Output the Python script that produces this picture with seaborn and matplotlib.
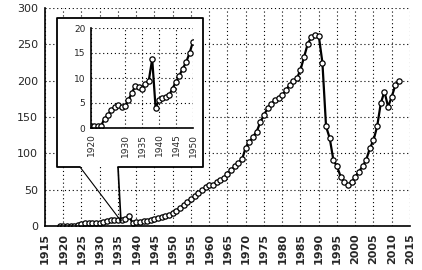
import pandas as pd
import matplotlib.pyplot as plt
import seaborn as sns
from matplotlib.patches import Rectangle, ConnectionPatch
from matplotlib.lines import Line2D

sns.set_style("white")
plt.rcParams['font.family'] = ['DejaVu Sans']

# data
years = list(range(1919, 2013))
values = [0.3, 0.4, 0.4, 0.5, 0.5, 1.9, 2.6, 3.7, 4.2, 4.6,
          4.3, 4.5, 5.6, 7.0, 8.4, 8.2, 7.9, 8.8, 9.5, 13.8,
          4.0, 5.6, 6.0, 6.2, 6.6, 7.9, 9.3, 10.5, 11.9, 13.2,
          15.0, 17.3, 21, 25, 29, 33, 37, 41, 45, 49,
          53, 56, 57, 60, 63, 66, 71, 77, 82, 87,
          92, 108, 115, 123, 130, 143, 153, 162, 168, 173,
          176, 180, 187, 194, 199, 203, 215, 233, 251, 260,
          263, 262, 225, 137, 121, 91, 82, 68, 61, 56,
          60, 68, 75, 82, 91, 107, 118, 137, 169, 185,
          164, 178, 194, 200]
df = pd.DataFrame({'year': years, 'value': values})
inset_df = df[df['year'] <= 1950]

main_xticks = list(range(1915, 2016, 5))
main_yticks = [0, 50, 100, 150, 200, 250, 300]
inset_xticks = [1920, 1930, 1935, 1940, 1945, 1950]
inset_yticks = [0, 5, 10, 15, 20]

W, H = 422, 270
fig = plt.figure(figsize=(W / 100, H / 100), dpi=100)

def fx(px):
    return px / W

def fy(py):
    return 1 - py / H

ax = fig.add_axes([fx(45), fy(226), fx(410) - fx(45), fy(8) - fy(226)])
sns.lineplot(data=df, x='year', y='value', ax=ax, color='black', lw=1.6,
             marker='o', markersize=3.8, markerfacecolor='white',
             markeredgecolor='black', markeredgewidth=0.9)
ax.set_xlim(1915, 2015)
ax.set_ylim(0, 300)
ax.set_xticks(main_xticks)
ax.set_yticks(main_yticks)
ax.set_xticklabels([str(t) for t in main_xticks], rotation=90, fontsize=8, fontweight='bold')
ax.set_yticklabels([str(t) for t in main_yticks], fontsize=8)
ax.set_xlabel('')
ax.set_ylabel('')
ax.grid(True, color='black', linestyle=(0, (1, 2.5)), linewidth=0.8)
ax.tick_params(direction='out', length=3, width=1, color='black', pad=2)
for side in ['top', 'right']:
    ax.spines[side].set_visible(False)
for side in ['left', 'bottom']:
    ax.spines[side].set_color('black')
    ax.spines[side].set_linewidth(1.2)

# inset box with callout
fig.patches.append(Rectangle((fx(57), fy(167)), fx(203) - fx(57), fy(18) - fy(167),
                             transform=fig.transFigure, facecolor='white',
                             edgecolor='none', zorder=5))
fig.lines.append(Line2D([fx(80), fx(57), fx(57), fx(203), fx(203), fx(118)],
                        [fy(167), fy(167), fy(18), fy(18), fy(167), fy(167)],
                        transform=fig.transFigure, color='black', lw=1.3, zorder=6))
for sx in [80, 118]:
    con = ConnectionPatch(xyA=(fx(sx), fy(167)), coordsA=fig.transFigure,
                          xyB=(1935.8, 7), coordsB=ax.transData,
                          color='black', lw=0.8 if sx == 80 else 1.2)
    fig.add_artist(con)

axi = fig.add_axes([fx(91), fy(128), fx(193) - fx(91), fy(28) - fy(128)], zorder=7)
sns.lineplot(data=inset_df, x='year', y='value', ax=axi, color='black', lw=1.6,
             marker='o', markersize=3.8, markerfacecolor='white',
             markeredgecolor='black', markeredgewidth=0.9)
axi.set_xlim(1920, 1950)
axi.set_ylim(0, 20)
axi.set_xticks(inset_xticks)
axi.set_yticks(inset_yticks)
axi.set_xticklabels([str(t) for t in inset_xticks], rotation=90, fontsize=6.5)
axi.set_yticklabels([str(t) for t in inset_yticks], fontsize=6.5)
axi.set_xlabel('')
axi.set_ylabel('')
axi.grid(True, color='black', linestyle=(0, (1, 2.5)), linewidth=0.8)
axi.tick_params(direction='out', length=2, width=1, color='black', pad=2)
for side in ['top', 'right']:
    axi.spines[side].set_visible(False)
for side in ['left', 'bottom']:
    axi.spines[side].set_color('black')
    axi.spines[side].set_linewidth(1.2)

fig.savefig('out.png', dpi=100)
